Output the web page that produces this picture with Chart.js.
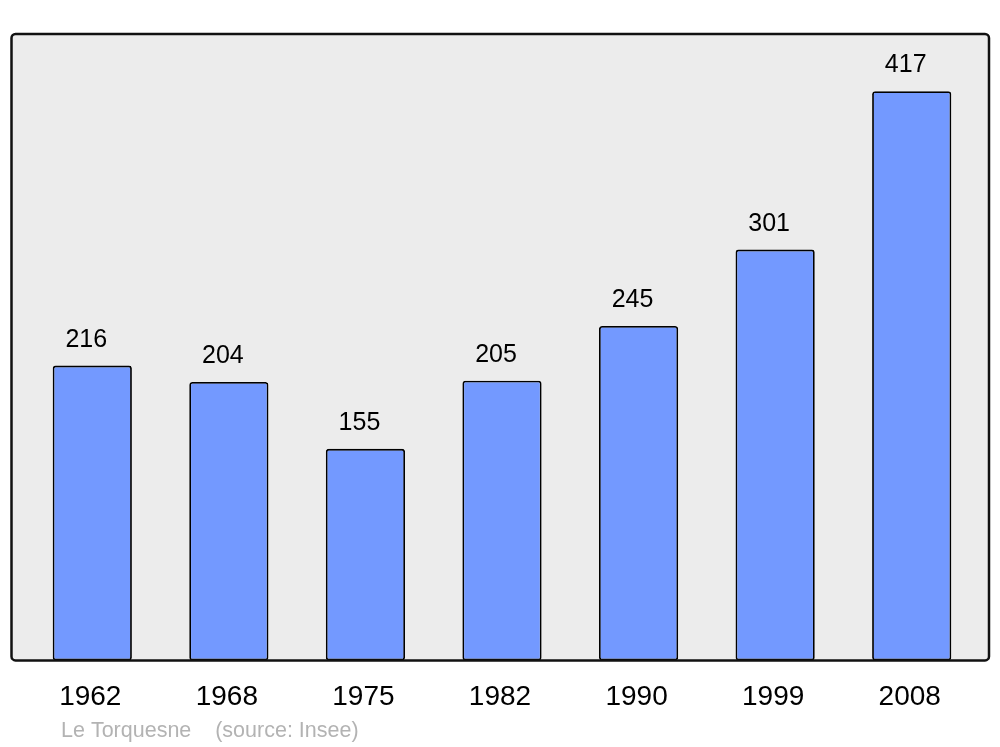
<!DOCTYPE html>
<html>
<head>
<meta charset="utf-8">
<script src="https://cdn.jsdelivr.net/npm/chart.js@4"></script>
<style>
html,body{margin:0;padding:0;background:#fff;}
#wrap{width:1000px;height:747px;position:relative;}
</style>
</head>
<body>
<div id="wrap"><canvas id="c" width="1000" height="747"></canvas></div>
<script>
const years = ['1962','1968','1975','1982','1990','1999','2008'];
const population = [216, 204, 155, 205, 245, 301, 417];
const footerText = 'Le Torquesne    (source: Insee)';

const boxPlugin = {
  id: 'box',
  beforeDatasetsDraw(chart) {
    const ctx = chart.ctx, a = chart.chartArea;
    ctx.save();
    ctx.beginPath();
    ctx.roundRect(a.left - 12.5, a.top, (a.right + 9) - (a.left - 12.5), a.bottom - a.top, 4);
    ctx.fillStyle = '#ececec';
    ctx.fill();
    ctx.restore();
  },
  afterDatasetsDraw(chart) {
    const ctx = chart.ctx, a = chart.chartArea;
    ctx.save();
    ctx.beginPath();
    ctx.roundRect(a.left - 12.5, a.top, (a.right + 9) - (a.left - 12.5), a.bottom - a.top, 4);
    ctx.lineWidth = 2.5;
    ctx.strokeStyle = '#111';
    ctx.stroke();
    // value labels
    const meta = chart.getDatasetMeta(0);
    ctx.fillStyle = '#000';
    ctx.font = '25px "Liberation Sans", Arial, sans-serif';
    ctx.textAlign = 'center';
    ctx.textBaseline = 'alphabetic';
    meta.data.forEach((bar, i) => {
      ctx.fillText(String(population[i]), bar.x - 6, bar.y - 19);
    });
    // footer
    ctx.fillStyle = '#b3b3b3';
    ctx.font = '21.5px "Liberation Sans", Arial, sans-serif';
    ctx.textAlign = 'left';
    ctx.fillText(footerText, 61, 737);
    ctx.restore();
  }
};

new Chart(document.getElementById('c'), {
  type: 'bar',
  data: {
    labels: years,
    datasets: [{
      data: population,
      backgroundColor: '#7399ff',
      borderColor: '#000',
      borderWidth: 1.8,
      borderRadius: 3,
      borderSkipped: false,
      barPercentage: 0.58,
      categoryPercentage: 1.0
    }]
  },
  options: {
    responsive: false,
    animation: false,
    layout: { padding: { left: 24, right: 20, top: 34, bottom: 13 } },
    plugins: { legend: { display: false }, tooltip: { enabled: false }, title: { display: false } },
    scales: {
      y: { display: false, min: 0, max: 459 },
      x: {
        grid: { display: false, drawTicks: false },
        border: { display: false },
        ticks: { color: '#000', font: { family: '"Liberation Sans", Arial, sans-serif', size: 28 }, padding: 20, maxRotation: 0, labelOffset: -2 }
      }
    }
  },
  plugins: [boxPlugin]
});
</script>
</body>
</html>
